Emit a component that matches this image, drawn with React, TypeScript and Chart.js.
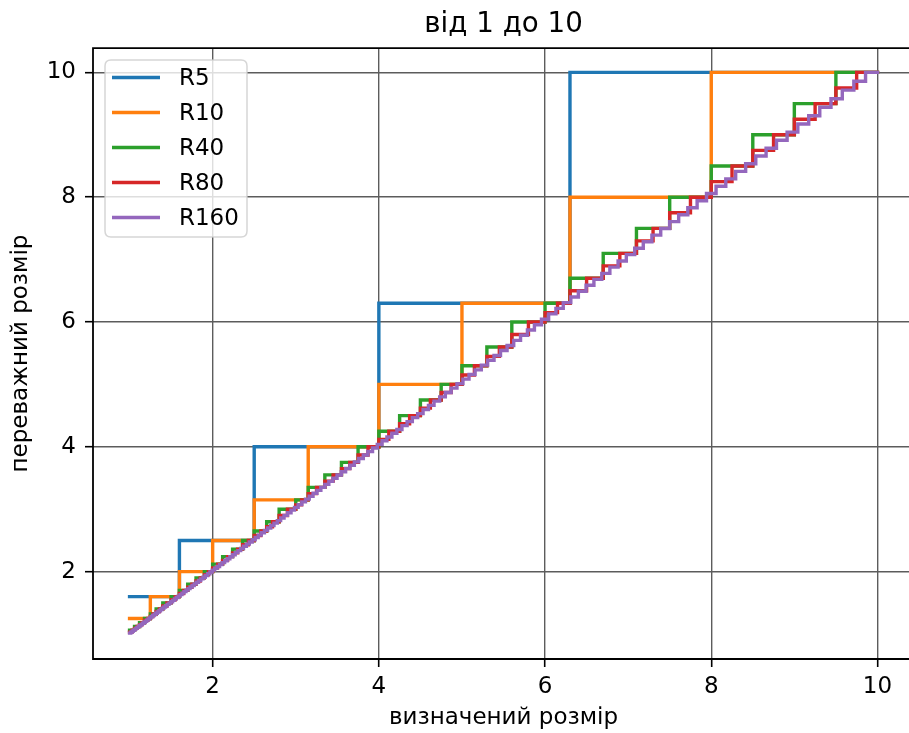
import React, { useEffect, useRef } from "react";
import { Chart, registerables } from "chart.js";

Chart.register(...registerables);

// ---- data ----
const titleText = "від 1 до 10";
const xLabel = "визначений розмір";
const yLabel = "переважний розмір";

const seriesNames = ["R5", "R10", "R40", "R80", "R160"];
const seriesColors = ["#1f77b4", "#ff7f0e", "#2ca02c", "#d62728", "#9467bd"];

const R5 = [1, 1.6, 2.5, 4, 6.3, 10];
const R10 = [1, 1.25, 1.6, 2, 2.5, 3.15, 4, 5, 6.3, 8, 10];
const R40 = [
  1, 1.06, 1.12, 1.18, 1.25, 1.32, 1.4, 1.5, 1.6, 1.7, 1.8, 1.9, 2, 2.12, 2.24, 2.36, 2.5, 2.65, 2.8, 3,
  3.15, 3.35, 3.55, 3.75, 4, 4.25, 4.5, 4.75, 5, 5.3, 5.6, 6, 6.3, 6.7, 7.1, 7.5, 8, 8.5, 9, 9.5, 10,
];
const R80 = [
  1, 1.03, 1.06, 1.09, 1.12, 1.15, 1.18, 1.22, 1.25, 1.28, 1.32, 1.36, 1.4, 1.45, 1.5, 1.55, 1.6, 1.65,
  1.7, 1.75, 1.8, 1.85, 1.9, 1.95, 2, 2.06, 2.12, 2.18, 2.24, 2.3, 2.36, 2.43, 2.5, 2.58, 2.65, 2.72, 2.8,
  2.9, 3, 3.07, 3.15, 3.25, 3.35, 3.45, 3.55, 3.65, 3.75, 3.87, 4, 4.12, 4.25, 4.37, 4.5, 4.62, 4.75, 4.87,
  5, 5.15, 5.3, 5.45, 5.6, 5.8, 6, 6.15, 6.3, 6.5, 6.7, 6.9, 7.1, 7.3, 7.5, 7.75, 8, 8.25, 8.5, 8.75, 9,
  9.25, 9.5, 9.75, 10,
];
const R160 = [
  1, 1.014, 1.029, 1.044, 1.059, 1.075, 1.09, 1.106, 1.122, 1.138, 1.155, 1.172, 1.189, 1.206, 1.223,
  1.241, 1.259, 1.277, 1.296, 1.314, 1.334, 1.353, 1.372, 1.392, 1.413, 1.433, 1.454, 1.475, 1.496, 1.518,
  1.54, 1.562, 1.585, 1.608, 1.631, 1.655, 1.679, 1.703, 1.728, 1.753, 1.778, 1.804, 1.83, 1.857, 1.884,
  1.911, 1.939, 1.967, 1.995, 2.024, 2.054, 2.083, 2.113, 2.144, 2.175, 2.207, 2.239, 2.271, 2.304, 2.337,
  2.371, 2.406, 2.441, 2.476, 2.512, 2.548, 2.585, 2.623, 2.661, 2.699, 2.738, 2.778, 2.818, 2.859, 2.901,
  2.943, 2.985, 3.029, 3.073, 3.117, 3.162, 3.208, 3.255, 3.302, 3.35, 3.398, 3.447, 3.497, 3.548, 3.6,
  3.652, 3.705, 3.758, 3.813, 3.868, 3.924, 3.981, 4.039, 4.097, 4.157, 4.217, 4.278, 4.34, 4.403, 4.467,
  4.532, 4.597, 4.664, 4.732, 4.8, 4.87, 4.94, 5.012, 5.085, 5.158, 5.233, 5.309, 5.386, 5.464, 5.543,
  5.623, 5.705, 5.788, 5.872, 5.957, 6.043, 6.131, 6.219, 6.31, 6.401, 6.494, 6.588, 6.683, 6.78, 6.879,
  6.978, 7.079, 7.182, 7.286, 7.392, 7.499, 7.608, 7.718, 7.83, 7.943, 8.058, 8.175, 8.294, 8.414, 8.536,
  8.66, 8.785, 8.913, 9.042, 9.173, 9.306, 9.441, 9.577, 9.716, 9.857, 10,
];
const seriesValues = [R5, R10, R40, R80, R160];

const xTicks = [2, 4, 6, 8, 10];
const yTicks = [2, 4, 6, 8, 10];
const xRange = [0.56, 10.44];
const yRange = [0.6, 10.39];

// ---- styling ----
const FONT = '"DejaVu Sans", "Liberation Sans", sans-serif';
const TICK_FS = 23;
const LEGEND_FS = 23;
const LINE_W = 3.4;
const CANVAS_W = 914;
const CANVAS_H = 733;

// step points: at x = v[i] the value jumps to v[i+1]
function toSteps(vals: number[]) {
  return vals.map((v, i) => ({ x: v, y: i < vals.length - 1 ? vals[i + 1] : v }));
}

const framePlugin = {
  id: "mplFrame",
  afterDraw(chart: any) {
    const { ctx, chartArea: ca } = chart;
    ctx.save();
    // spines (the right spine falls outside the visible picture, as in the reference)
    ctx.strokeStyle = "#000";
    ctx.lineWidth = 1.8;
    ctx.beginPath();
    ctx.moveTo(ca.right + 20, ca.top);
    ctx.lineTo(ca.left, ca.top);
    ctx.lineTo(ca.left, ca.bottom);
    ctx.lineTo(ca.right + 20, ca.bottom);
    ctx.stroke();

    // legend (upper left, inside axes)
    const bx = ca.left + 12;
    const by = ca.top + 12;
    const bw = 142;
    const bh = 177;
    const r = 6;
    ctx.beginPath();
    ctx.moveTo(bx + r, by);
    ctx.lineTo(bx + bw - r, by);
    ctx.quadraticCurveTo(bx + bw, by, bx + bw, by + r);
    ctx.lineTo(bx + bw, by + bh - r);
    ctx.quadraticCurveTo(bx + bw, by + bh, bx + bw - r, by + bh);
    ctx.lineTo(bx + r, by + bh);
    ctx.quadraticCurveTo(bx, by + bh, bx, by + bh - r);
    ctx.lineTo(bx, by + r);
    ctx.quadraticCurveTo(bx, by, bx + r, by);
    ctx.closePath();
    ctx.fillStyle = "rgba(255,255,255,0.8)";
    ctx.fill();
    ctx.strokeStyle = "rgba(204,204,204,0.8)";
    ctx.lineWidth = 1.5;
    ctx.stroke();

    ctx.font = `${LEGEND_FS}px ${FONT}`;
    ctx.textBaseline = "middle";
    ctx.textAlign = "left";
    chart.data.datasets.forEach((ds: any, i: number) => {
      const cy = by + 17.5 + i * 35;
      ctx.strokeStyle = ds.borderColor;
      ctx.lineWidth = LINE_W;
      ctx.lineCap = "butt";
      ctx.beginPath();
      ctx.moveTo(bx + 7, cy);
      ctx.lineTo(bx + 55, cy);
      ctx.stroke();
      ctx.fillStyle = "#000";
      ctx.fillText(ds.label, bx + 74, cy + 1);
    });
    ctx.restore();
  },
};

export default function App() {
  const ref = useRef<HTMLCanvasElement>(null);

  useEffect(() => {
    const canvas = ref.current;
    if (!canvas) return;
    const datasets = seriesValues.map((vals, i) => ({
      label: seriesNames[i],
      data: toSteps(vals),
      borderColor: seriesColors[i],
      backgroundColor: seriesColors[i],
      borderWidth: LINE_W,
      stepped: "before" as const,
      pointRadius: 0,
      pointHoverRadius: 0,
      fill: false,
      order: seriesValues.length - i,
      borderCapStyle: "square" as const,
      borderJoinStyle: "miter" as const,
    }));

    const tickFont = { family: FONT, size: TICK_FS };
    const gridCommon = {
      color: "#5c5c5c",
      lineWidth: 1.4,
      drawTicks: true,
      tickLength: 8,
      tickColor: "#000",
      tickWidth: 1.6,
    };

    const chart = new Chart(canvas, {
      type: "line",
      data: { datasets },
      options: {
        responsive: false,
        animation: false,
        devicePixelRatio: 1,
        layout: { padding: 0, autoPadding: false },
        plugins: {
          legend: { display: false },
          tooltip: { enabled: false },
          title: {
            display: true,
            fullSize: false,
            text: titleText,
            color: "#000",
            font: { family: FONT, size: 27.7, weight: "normal" },
            padding: { top: 8, bottom: 6.8 },
          },
        },
        scales: {
          x: {
            type: "linear",
            min: xRange[0],
            max: xRange[1],
            afterBuildTicks: (s: any) => {
              s.ticks = xTicks.map((v) => ({ value: v }));
            },
            afterFit: (s: any) => {
              s.height = 74;
            },
            ticks: { font: tickFont, color: "#000", padding: 6, maxRotation: 0, autoSkip: false },
            grid: gridCommon,
            border: { display: false },
            title: {
              display: true,
              text: xLabel,
              color: "#000",
              font: { family: FONT, size: 23 },
              padding: { top: 0, bottom: 1 },
            },
          },
          y: {
            type: "linear",
            min: yRange[0],
            max: yRange[1],
            afterBuildTicks: (s: any) => {
              s.ticks = yTicks.map((v) => ({ value: v }));
            },
            afterFit: (s: any) => {
              s.width = 93;
            },
            ticks: { font: tickFont, color: "#000", padding: 9, autoSkip: false },
            grid: gridCommon,
            border: { display: false },
            title: {
              display: true,
              text: yLabel,
              color: "#000",
              font: { family: FONT, size: 23 },
              padding: { top: 7, bottom: 0 },
            },
          },
        },
      },
      plugins: [framePlugin],
    } as any);

    return () => chart.destroy();
  }, []);

  return (
    <div
      style={{
        position: "fixed",
        left: 0,
        top: 0,
        width: 909,
        height: 733,
        overflow: "hidden",
        background: "#fff",
      }}
    >
      <canvas ref={ref} width={CANVAS_W} height={CANVAS_H} style={{ display: "block" }} />
    </div>
  );
}
